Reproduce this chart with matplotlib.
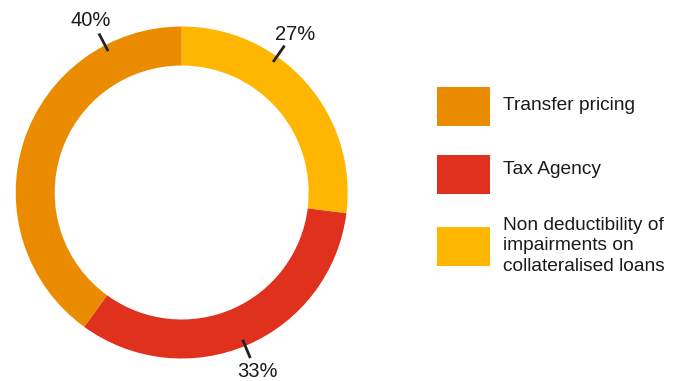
import numpy as np
import matplotlib.pyplot as plt
from matplotlib.patches import Rectangle

plt.rcParams['font.family'] = ['Liberation Sans', 'DejaVu Sans']

# Ring segments, clockwise from 12 o'clock
categories = ['Non deductibility of\nimpairments on\ncollateralised loans', 'Tax Agency', 'Transfer pricing']
shares = [27, 33, 40]
colors = ['#FFB600', '#E0301E', '#EB8C00']

# Legend runs in a different order
legend_order = [2, 1, 0]

# where each percent label sits (degrees clockwise from top)
label_angles = [35, 157.5, 332.5]

W, H = 688, 381
fig = plt.figure(figsize=(W / 100, H / 100), dpi=100)

cx, cy, r = 181.7, H - 192.5, 166
ax = fig.add_axes([(cx - r) / W, (cy - r) / H, 2 * r / W, 2 * r / H])
ax.pie(shares, colors=colors, startangle=90, counterclock=False,
       wedgeprops=dict(width=0.235, edgecolor='none'))
ax.set_xlim(-1, 1)
ax.set_ylim(-1, 1)
ax.axis('off')

for val, ang in zip(shares, label_angles):
    t = np.deg2rad(ang)
    dx, dy = np.sin(t), np.cos(t)
    ax.plot([0.96 * dx, 1.08 * dx], [0.96 * dy, 1.08 * dy], color='#222222',
            lw=2.0, solid_capstyle='butt', clip_on=False)
    ax.text(1.19 * dx, 1.165 * dy, f'{val}%', ha='center', va='center',
            fontsize=14.5, color='#1a1a1a', clip_on=False)

# legend boxes and labels
box_tops = [87, 155, 227]
text_y = [105, 170, 246]
for i, (top, ty) in enumerate(zip(box_tops, text_y)):
    k = legend_order[i]
    fig.add_artist(Rectangle((437 / W, (H - top - 38.5) / H), 53 / W, 38.5 / H,
                             transform=fig.transFigure, facecolor=colors[k],
                             edgecolor='none'))
    fig.text(503 / W, (H - ty) / H, categories[k], ha='left', va='center',
             fontsize=13.8, color='#1a1a1a', linespacing=1.27)

fig.savefig('out.png', dpi=100)
